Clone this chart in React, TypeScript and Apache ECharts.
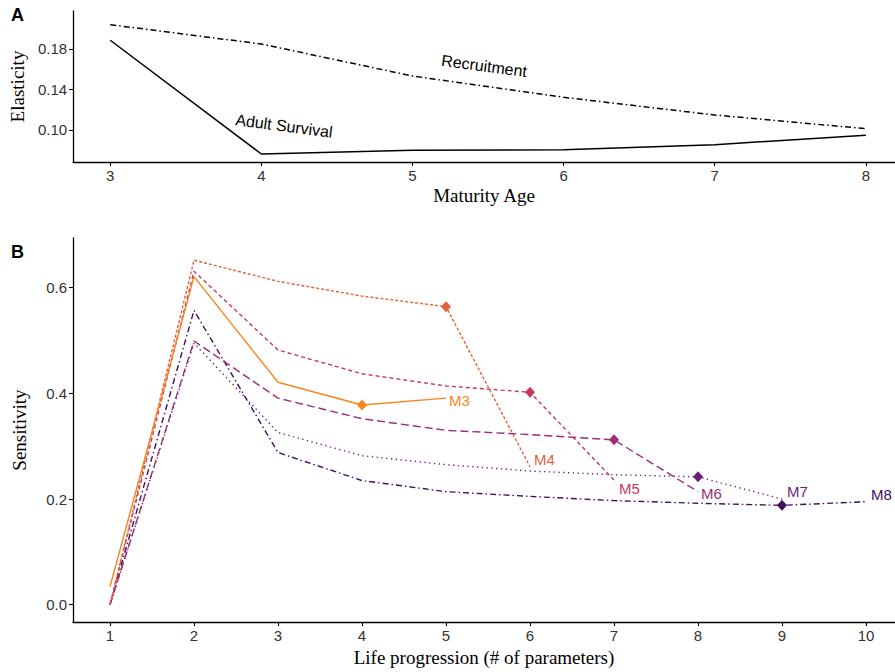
import React, { useEffect, useRef } from "react";
import * as echarts from "echarts";

// Panel A data
const maturityAge = [3, 4, 5, 6, 7, 8];
const adultSurvival = [0.1886, 0.0763, 0.08, 0.0805, 0.0855, 0.0948];
const recruitment = [0.204, 0.1849, 0.1533, 0.1323, 0.1148, 0.1013];
const elasticityTicks = [0.1, 0.14, 0.18];

// Panel B data
const lifeSteps = [1, 2, 3, 4, 5, 6, 7, 8, 9, 10];
const modelNames = ["M3", "M4", "M5", "M6", "M7", "M8"];
const m3 = [0.034, 0.621, 0.421, 0.378, 0.391];
const m4 = [0.0, 0.652, 0.612, 0.584, 0.564, 0.261];
const m5 = [0.0, 0.631, 0.482, 0.437, 0.414, 0.402, 0.236];
const m6 = [0.0, 0.499, 0.391, 0.352, 0.33, 0.322, 0.312, 0.214];
const m7 = [0.0, 0.495, 0.326, 0.282, 0.265, 0.253, 0.246, 0.242, 0.2];
const m8 = [0.0, 0.557, 0.288, 0.235, 0.214, 0.205, 0.197, 0.192, 0.188, 0.195];
const diamondStep = [4, 5, 6, 7, 8, 9];
const sensitivityTicks = [0, 0.2, 0.4, 0.6];

// styles
const colors = ["#F7851E", "#E5603A", "#C6395A", "#9E2E74", "#6A1F7A", "#40105F"];
const dashes: any[] = ["solid", [3, 2], [4, 3], [8, 4], [1.3, 3.5], [6, 3, 1.5, 3]];
const labelOffsets = [[0, 2], [1, -7], [2, 8], [0, 2], [2, -8], [2, -7]];

const SANS = "'Liberation Sans', Arial, sans-serif";
const SERIF = "'Liberation Serif', 'Times New Roman', serif";

export default function App() {
  const ref = useRef<HTMLDivElement>(null);
  useEffect(() => {
    if (!ref.current) return;
    const chart = echarts.init(ref.current, null, { renderer: "svg" });
    const seriesB = [m3, m4, m5, m6, m7, m8];

    const axisCommon = {
      axisLine: { show: true, onZero: false, lineStyle: { color: "#000", width: 1.3 } },
      axisTick: { show: true, inside: false, length: 4, lineStyle: { color: "#000", width: 1.1 } },
      splitLine: { show: false },
      nameLocation: "middle" as const,
      nameTextStyle: { fontFamily: SERIF, fontSize: 19, color: "#000" },
    };
    const labelCommon = { fontFamily: SANS, fontSize: 15, color: "#333", margin: 6 };

    const option: any = {
      animation: false,
      backgroundColor: "#fff",
      graphic: [
        { type: "text", left: 11, top: 6, style: { text: "A", font: `bold 18px ${SANS}`, fill: "#000" } },
        { type: "text", left: 11, top: 243, style: { text: "B", font: `bold 18px ${SANS}`, fill: "#000" } },
      ],
      grid: [
        { left: 73, top: 11, width: 822, height: 151 },
        { left: 73, top: 238, width: 822, height: 386.5 },
      ],
      xAxis: [
        {
          ...axisCommon,
          type: "value",
          gridIndex: 0,
          min: 2.754,
          max: 8.193,
          name: "Maturity Age",
          nameGap: 24,
          axisTick: { ...axisCommon.axisTick, customValues: maturityAge },
          axisLabel: { ...labelCommon, customValues: maturityAge },
        },
        {
          ...axisCommon,
          type: "value",
          gridIndex: 1,
          min: 0.5595,
          max: 10.345,
          name: "Life progression (# of parameters)",
          nameGap: 24,
          axisTick: { ...axisCommon.axisTick, customValues: lifeSteps },
          axisLabel: { ...labelCommon, customValues: lifeSteps },
        },
      ],
      yAxis: [
        {
          ...axisCommon,
          type: "value",
          gridIndex: 0,
          min: 0.0684,
          max: 0.2175,
          name: "Elasticity",
          nameGap: 44,
          axisTick: { ...axisCommon.axisTick, customValues: elasticityTicks },
          axisLabel: { ...labelCommon, customValues: elasticityTicks, formatter: (v: number) => v.toFixed(2) },
        },
        {
          ...axisCommon,
          type: "value",
          gridIndex: 1,
          min: -0.0329,
          max: 0.694,
          name: "Sensitivity",
          nameGap: 44,
          axisTick: { ...axisCommon.axisTick, customValues: sensitivityTicks },
          axisLabel: { ...labelCommon, customValues: sensitivityTicks, formatter: (v: number) => v.toFixed(1) },
        },
      ],
      series: [
        {
          type: "line",
          xAxisIndex: 0,
          yAxisIndex: 0,
          symbol: "none",
          lineStyle: { color: "#000", width: 1.5, type: "solid" },
          data: maturityAge.map((x, i) => [x, adultSurvival[i]]),
          markPoint: {
            symbolSize: 0,
            silent: true,
            data: [
              {
                coord: [4.15, 0.104],
                label: {
                  show: true,
                  position: "inside",
                  formatter: "Adult Survival",
                  rotate: -7.5,
                  fontFamily: SANS,
                  fontSize: 16,
                  color: "#000",
                },
              },
            ],
          },
        },
        {
          type: "line",
          xAxisIndex: 0,
          yAxisIndex: 0,
          symbol: "none",
          lineStyle: { color: "#000", width: 1.5, type: [6, 3, 1.5, 3] },
          data: maturityAge.map((x, i) => [x, recruitment[i]]),
          markPoint: {
            symbolSize: 0,
            silent: true,
            data: [
              {
                coord: [5.474, 0.1632],
                label: {
                  show: true,
                  position: "inside",
                  formatter: "Recruitment",
                  rotate: -7.5,
                  fontFamily: SANS,
                  fontSize: 16,
                  color: "#000",
                },
              },
            ],
          },
        },
        ...seriesB.map((vals, k) => ({
          type: "line",
          name: modelNames[k],
          xAxisIndex: 1,
          yAxisIndex: 1,
          symbol: "none",
          showSymbol: true,
          clip: false,
          z: 10 - k,
          lineStyle: { color: colors[k], width: 1.4, type: dashes[k] },
          itemStyle: { color: colors[k] },
          data: vals.map((v, i) =>
            lifeSteps[i] === diamondStep[k]
              ? { value: [lifeSteps[i], v], symbol: "diamond", symbolSize: [10, 11] }
              : { value: [lifeSteps[i], v] }
          ),
          endLabel: {
            show: true,
            formatter: modelNames[k],
            color: colors[k],
            fontFamily: SANS,
            fontSize: 15,
            distance: 3,
            offset: labelOffsets[k],
          },
        })),
      ],
    };
    chart.setOption(option);
    return () => chart.dispose();
  }, []);
  return (
    <div
      ref={ref}
      style={{ position: "absolute", left: 0, top: 0, width: 895, height: 672 }}
    />
  );
}
